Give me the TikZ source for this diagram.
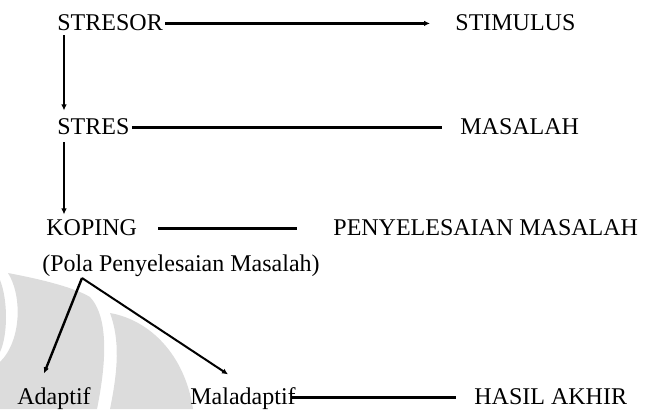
\documentclass[tikz,border=0pt]{standalone}
\usepackage{fontspec}
\setmainfont{Liberation Serif}
\usepackage{tikz}
\usetikzlibrary{arrows.meta,backgrounds}
\definecolor{Lmark}{HTML}{DCDCDC}

\begin{document}
\begin{tikzpicture}[
  x=0.5pt, y=-0.5pt, >={Latex[length=3pt,width=2.8pt]},
  font=\fontsize{12}{14}\selectfont,
  lbl/.style ={inner sep=0pt, anchor=base west, text height=0.66em, text depth=0pt},
  link/.style={line width=1.2pt},
  arr/.style ={->, line width=1pt},
]
\useasboundingbox (0,0) rectangle (657,409);

% ── left column: stresor -> stres -> koping ─────────────────────────
\node[lbl] (stresor) at (57,30) {STRESOR};
\node[lbl] (stres)   at (57,134) {STRES};
\node[lbl] (koping)  at (46,235) {KOPING};
\node[lbl] (pola)    at (42,271) {(Pola Penyelesaian Masalah)};

% ── right column ─────────────────────────────────────────────────────
\node[lbl] (stimulus)     at (455,30) {STIMULUS};
\node[lbl] (masalah)      at (460,134) {MASALAH};
\node[lbl] (penyelesaian) at (333,235) {PENYELESAIAN MASALAH};

% ── bottom row ───────────────────────────────────────────────────────
\node[lbl] (adaptif)    at (17,404) {Adaptif};
\node[lbl] (maladaptif) at (190,404) {Maladaptif};
\node[lbl] (hasil)      at (474,404) {HASIL AKHIR};

% ── connectors ───────────────────────────────────────────────────────
\draw[arr, line width=1.2pt, shorten <=1pt, shorten >=12.5pt] (stresor.east) -- (stimulus.west);
\draw[link, shorten <=1pt, shorten >=9pt] (stres.east) -- (masalah.west);
\draw[link, shorten <=10.5pt, shorten >=18pt] (koping.east) -- (penyelesaian.west);
\draw[link, shorten <=-2.5pt, shorten >=9pt] (maladaptif.east) -- (hasil.west);

\draw[arr, shorten <=2.5pt, shorten >=5pt]
  ([xshift=3.5pt]stresor.south west) -- ([xshift=3.5pt]stresor.south west |- stres.north);
\draw[arr, shorten <=4pt, shorten >=3.5pt]
  ([xshift=3.5pt]stres.south west) -- ([xshift=3.5pt]stres.south west |- koping.north);

% split under the coping pattern
\coordinate (split) at ([shift={(40,7)}]pola.base west);
\draw[arr, line width=1.2pt] (split) -- ([shift={(-10,-17)}]adaptif.north);
\draw[arr] (split) -- ([shift={(-15,-16)}]maladaptif.north);

% ── faint watermark on the background layer ──────────────────────────
\begin{scope}[on background layer]
  \fill[Lmark] (0,280) .. controls (8,300) and (8,335) .. (0,352) -- cycle;
  \fill[Lmark] (8,273) .. controls (45,280) and (75,288) .. (90,297)
    .. controls (104,312) and (110,345) .. (97,409) -- (0,409) -- (0,362)
    .. controls (22,340) and (22,295) .. cycle;
  \fill[Lmark] (110,313) .. controls (150,320) and (185,355) .. (193,409)
    -- (110,409) .. controls (118,370) and (120,340) .. cycle;
\end{scope}
\end{tikzpicture}
\end{document}
